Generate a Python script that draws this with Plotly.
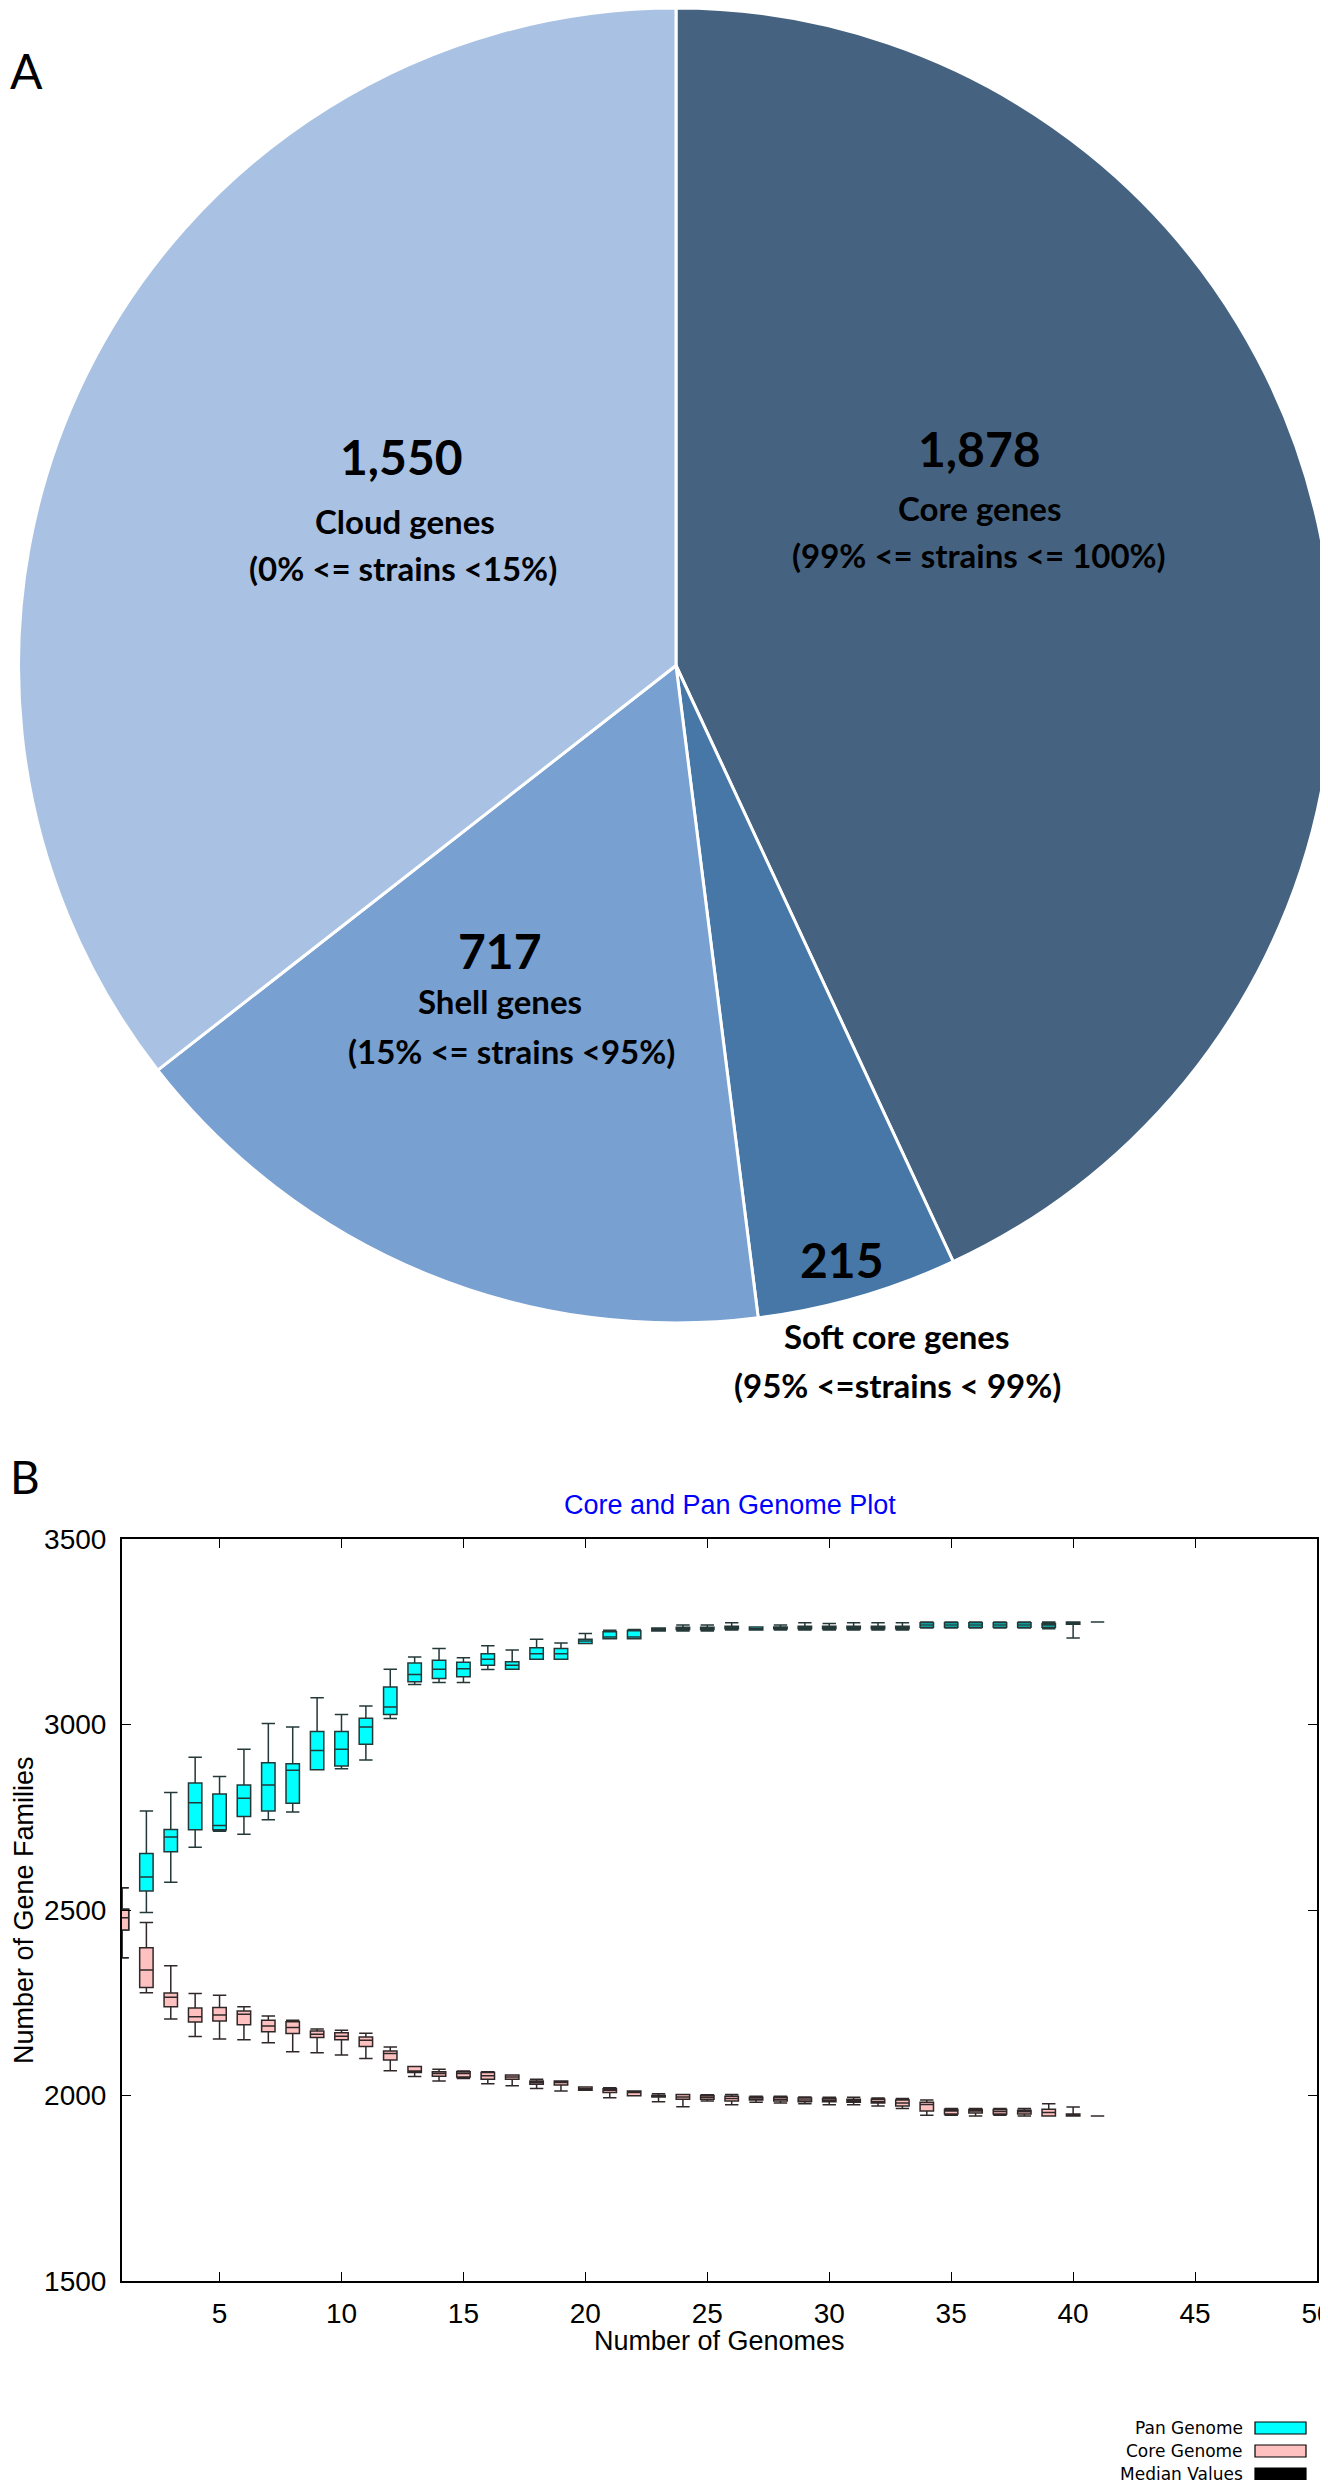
import plotly.graph_objects as go

W, H = 1328, 2480

# ---------------- Panel A data ----------------
pie_labels = ["Core genes", "Soft core genes", "Shell genes", "Cloud genes"]
pie_values = [1878, 215, 717, 1550]
pie_numbers = ["1,878", "215", "717", "1,550"]
pie_ranges = ["(99% <= strains <= 100%)", "(95% <=strains < 99%)",
              "(15% <= strains <95%)", "(0% <= strains <15%)"]
pie_colors = ["#456381", "#4677A6", "#78A0D0", "#A9C2E3"]

# ---------------- Panel B data ----------------
genomes = list(range(1, 42))
pan_lo = [2371, 2493, 2575, 2669, 2712, 2704, 2743, 2764, 2878, 2881,
          2904, 3016, 3108, 3113, 3113, 3148, 3149, 3176, 3176, 3218,
          3231, 3231, 3252, 3252, 3252, 3255, 3255, 3255, 3255, 3255,
          3255, 3255, 3255, 3260, 3260, 3260, 3260, 3260, 3258, 3233, 3276]
pan_q1 = [2446, 2551, 2657, 2716, 2716, 2752, 2767, 2788, 2878, 2888,
          2947, 3027, 3115, 3124, 3129, 3160, 3149, 3176, 3176, 3218,
          3231, 3231, 3252, 3256, 3256, 3258, 3255, 3258, 3258, 3258,
          3258, 3258, 3258, 3262, 3262, 3262, 3262, 3262, 3262, 3270, 3276]
pan_med = [2479, 2589, 2697, 2789, 2728, 2801, 2837, 2877, 2930, 2933,
           2993, 3047, 3135, 3149, 3150, 3176, 3160, 3191, 3191, 3225,
           3236, 3236, 3256, 3260, 3260, 3262, 3258, 3260, 3262, 3262,
           3262, 3262, 3262, 3268, 3268, 3268, 3268, 3268, 3268, 3274, 3276]
pan_q3 = [2502, 2652, 2717, 2842, 2813, 2837, 2897, 2894, 2981, 2981,
          3017, 3101, 3166, 3173, 3168, 3191, 3169, 3207, 3205, 3230,
          3250, 3253, 3260, 3262, 3262, 3265, 3263, 3263, 3265, 3265,
          3265, 3265, 3265, 3274, 3274, 3274, 3274, 3274, 3272, 3276, 3276]
pan_hi = [2560, 2767, 2817, 2912, 2860, 2933, 3003, 2993, 3072, 3027,
          3050, 3149, 3182, 3205, 3180, 3212, 3201, 3230, 3220, 3245,
          3254, 3256, 3260, 3268, 3268, 3274, 3263, 3268, 3274, 3272,
          3274, 3274, 3274, 3276, 3276, 3276, 3276, 3276, 3276, 3276, 3276]

core_lo = [2371, 2277, 2206, 2159, 2152, 2150, 2142, 2118, 2115, 2109,
           2100, 2067, 2051, 2039, 2046, 2032, 2026, 2019, 2012, 2014,
           1994, 1999, 1983, 1970, 1985, 1975, 1982, 1980, 1978, 1975,
           1975, 1972, 1965, 1947, 1947, 1945, 1947, 1945, 1945, 1945, 1945]
core_q1 = [2446, 2291, 2239, 2198, 2201, 2191, 2172, 2167, 2156, 2150,
           2132, 2096, 2062, 2052, 2050, 2044, 2044, 2030, 2028, 2014,
           2008, 1999, 1996, 1990, 1990, 1985, 1988, 1985, 1983, 1983,
           1982, 1980, 1972, 1958, 1950, 1953, 1950, 1950, 1945, 1945, 1945]
core_med = [2479, 2338, 2265, 2212, 2217, 2219, 2187, 2183, 2165, 2160,
            2149, 2113, 2066, 2059, 2059, 2053, 2050, 2035, 2035, 2018,
            2014, 2008, 1998, 1996, 1995, 1992, 1990, 1990, 1988, 1987,
            1986, 1984, 1980, 1976, 1958, 1958, 1957, 1956, 1954, 1947, 1945]
core_q3 = [2502, 2398, 2276, 2236, 2237, 2228, 2203, 2199, 2174, 2169,
           2158, 2120, 2078, 2064, 2064, 2062, 2055, 2039, 2039, 2023,
           2018, 2012, 2000, 2003, 2000, 1998, 1995, 1995, 1993, 1992,
           1990, 1990, 1988, 1982, 1962, 1962, 1962, 1960, 1963, 1950, 1945]
core_hi = [2560, 2466, 2350, 2275, 2270, 2239, 2214, 2203, 2179, 2176,
           2168, 2131, 2078, 2071, 2066, 2064, 2055, 2044, 2039, 2023,
           2021, 2012, 2005, 2003, 2002, 2003, 1998, 1998, 1996, 1995,
           1995, 1993, 1992, 1988, 1965, 1965, 1965, 1965, 1978, 1969, 1945]

x_ticks = [5, 10, 15, 20, 25, 30, 35, 40, 45, 50]
y_ticks = [1500, 2000, 2500, 3000, 3500]
legend_items = ["Pan Genome", "Core Genome", "Median Values"]
legend_colors = ["#00FFFF", "#FFC0C0", "#000000"]


def px(x):
    return x / W


def py(y):
    return 1 - y / H


fig = go.Figure()

# ---------------- Pie ----------------
fig.add_trace(go.Pie(
    labels=pie_labels, values=pie_values, sort=False, direction="clockwise",
    rotation=0, marker=dict(colors=pie_colors, line=dict(color="white", width=3)),
    textinfo="none", hoverinfo="label+value", showlegend=False,
    domain=dict(x=[px(10), px(1326)], y=[py(1315), py(0)]),
))

# ---------------- Box plots ----------------
fig.add_trace(go.Box(
    x=genomes, q1=pan_q1, median=pan_med, q3=pan_q3,
    lowerfence=pan_lo, upperfence=pan_hi, name="Pan Genome",
    fillcolor="#00FFFF", line=dict(color="#243838", width=1.5),
    width=0.55, whiskerwidth=1, boxpoints=False, showlegend=False,
))
fig.add_trace(go.Box(
    x=genomes, q1=core_q1, median=core_med, q3=core_q3,
    lowerfence=core_lo, upperfence=core_hi, name="Core Genome",
    fillcolor="#FFC0C0", line=dict(color="#302828", width=1.5),
    width=0.55, whiskerwidth=1, boxpoints=False, showlegend=False,
))

tick_font = dict(family="Liberation Sans Narrow, Liberation Sans, sans-serif", size=28, color="black")
title_family = "Liberation Sans, Arial, sans-serif"

fig.update_layout(
    width=W, height=H, margin=dict(l=0, r=0, t=0, b=0),
    paper_bgcolor="white", plot_bgcolor="white",
    boxmode="overlay", showlegend=False,
    xaxis=dict(domain=[px(114), px(1309)], range=[1, 50], tickvals=x_ticks,
               ticks="inside", ticklen=9, tickwidth=1.2, tickcolor="black",
               showline=True, linecolor="black", linewidth=2, mirror="ticks",
               showgrid=False, zeroline=False, tickfont=tick_font,
               automargin=False, ticklabelstandoff=6),
    yaxis=dict(domain=[py(2273), py(1531)], range=[1500, 3500], tickvals=y_ticks,
               ticks="inside", ticklen=9, tickwidth=1.2, tickcolor="black",
               showline=True, linecolor="black", linewidth=2, mirror="ticks",
               showgrid=False, zeroline=False, tickfont=tick_font,
               automargin=False, ticklabelstandoff=8),
)

ann = []
lato_b = "Lato"
# pie labels
num_pos = [(971, 440), (834, 1251), (492, 942), (393, 449)]
name_pos = [(971, 500), (889, 1328), (492, 993), (397, 513)]
rng_pos = [(971, 547), (889, 1377), (503, 1043), (395, 560)]
for i in range(4):
    ann.append(dict(x=px(num_pos[i][0]), y=py(num_pos[i][1]), xref="paper", yref="paper",
                    text="<b>%s</b>" % pie_numbers[i], showarrow=False,
                    font=dict(family=lato_b, size=48, color="black"),
                    xanchor="center", yanchor="middle"))
    ann.append(dict(x=px(name_pos[i][0]), y=py(name_pos[i][1]), xref="paper", yref="paper",
                    text="<b>%s</b>" % pie_labels[i], showarrow=False,
                    font=dict(family=lato_b, size=33, color="black"),
                    xanchor="center", yanchor="middle"))
    ann.append(dict(x=px(rng_pos[i][0]), y=py(rng_pos[i][1]), xref="paper", yref="paper",
                    text="<b>%s</b>" % pie_ranges[i], showarrow=False,
                    font=dict(family=lato_b, size=33, color="black"),
                    xanchor="center", yanchor="middle"))

# panel letters
ann.append(dict(x=0, y=py(62), xref="paper", yref="paper", text="A", showarrow=False,
                font=dict(family="Lato", size=48, color="black"), xanchor="left", yanchor="middle"))
ann.append(dict(x=0, y=py(1469), xref="paper", yref="paper", text="B", showarrow=False,
                font=dict(family="Lato", size=46, color="black"), xanchor="left", yanchor="middle"))

# chart title and axis titles
ann.append(dict(x=px(722), y=py(1497), xref="paper", yref="paper", text="Core and Pan Genome Plot",
                showarrow=False, font=dict(family=title_family, size=27, color="#0000FF"),
                xanchor="center", yanchor="middle"))
ann.append(dict(x=px(711), y=py(2333), xref="paper", yref="paper", text="Number of Genomes",
                showarrow=False, font=dict(family=title_family, size=27, color="black"),
                xanchor="center", yanchor="middle"))
ann.append(dict(x=px(16), y=py(1902), xref="paper", yref="paper", text="Number of Gene Families",
                showarrow=False, textangle=-90,
                font=dict(family=title_family, size=27, color="black"),
                xanchor="center", yanchor="middle"))

# custom legend (text left, swatch right)
shapes = []
for i, (lab, col) in enumerate(zip(legend_items, legend_colors)):
    yc = 2420 + i * 23
    ann.append(dict(x=px(1237), y=py(yc), xref="paper", yref="paper", text=lab, showarrow=False,
                    font=dict(family="DejaVu Sans", size=17, color="black"),
                    xanchor="right", yanchor="middle"))
    shapes.append(dict(type="rect", xref="paper", yref="paper",
                       x0=px(1247), x1=px(1298), y0=py(yc + 6), y1=py(yc - 6),
                       fillcolor=col, line=dict(color="black", width=1.2)))

fig.update_layout(annotations=ann, shapes=shapes)
fig.write_html("out.html")
